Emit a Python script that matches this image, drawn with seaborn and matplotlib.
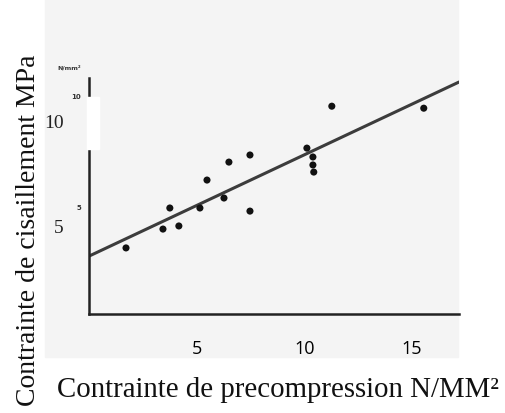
"""Shear strength vs precompression stress - scanned test results, redrawn."""
import matplotlib

matplotlib.use("Agg")
import matplotlib.pyplot as plt
import matplotlib.transforms as mtransforms
from matplotlib.patches import Rectangle
import pandas as pd
import seaborn as sns

# measured points (precompression N/mm2, shear MPa)
precompression = [1.70, 3.42, 3.74, 4.16, 5.14, 5.47, 6.26, 6.49, 7.47, 7.47,
                  10.12, 10.40, 10.40, 10.44, 11.28, 15.56]
shear = [3.11, 3.96, 4.91, 4.10, 4.91, 6.17, 5.36, 6.98, 4.77, 7.30,
         7.61, 7.21, 6.85, 6.53, 9.50, 9.41]

# trend line ends
trend_x = [0.0, 17.2]
trend_y = [2.75, 10.59]

x_ticks = [5, 10, 15]
x_tick_labels = ["5", "10", "15"]
y_ticks = [5, 10]
y_scan_labels = ["5", "10"]
y_overlay_labels = ["5", "10"]

sns.set_theme(style="white")
plt.rcParams["font.family"] = ["Liberation Serif", "DejaVu Serif"]

fig = plt.figure(figsize=(5.05, 4.14), dpi=100)
# faint grey of the scanned page
fig.patches.append(Rectangle((45 / 505, 1 - 358 / 414), 413 / 505, 358 / 414,
                             transform=fig.transFigure, color="#f4f4f4",
                             zorder=-1))
ax = fig.add_axes([0.1772, 0.2391, 0.7317, 0.570])
ax.set_facecolor("none")

pts = pd.DataFrame({"x": precompression, "y": shear})
line = pd.DataFrame({"x": trend_x, "y": trend_y})
sns.lineplot(data=line, x="x", y="y", color="#3c3c3c", linewidth=2.2, ax=ax)
sns.scatterplot(data=pts, x="x", y="y", color="#111111", s=26,
                edgecolor="none", ax=ax, zorder=3)

ax.set_xlim(0, 17.2)
ax.set_ylim(0.13, 10.77)
for side in ["top", "right"]:
    ax.spines[side].set_visible(False)
for side in ["left", "bottom"]:
    ax.spines[side].set_color("#222222")
    ax.spines[side].set_linewidth(1.8)

ax.set_xticks(x_ticks)
ax.set_xticklabels(x_tick_labels, family=["Open Sans", "DejaVu Sans"],
                   fontsize=13, color="#000000")
ax.set_yticks(y_ticks)
ax.set_yticklabels(y_scan_labels, family="DejaVu Sans", fontsize=5,
                   fontweight="bold", color="#333333")
ax.tick_params(axis="x", direction="in", length=3, width=1.2, pad=18,
               colors="#333333", labelcolor="#000000")
ax.tick_params(axis="y", direction="in", length=3, width=1.2, pad=6,
               colors="#333333")
ax.set_xlabel("")
ax.set_ylabel("")

# serif labels pasted over the scan, sitting a little below the ticks
offsets = {"5": -21, "10": -27}
for val, lab in zip(y_ticks, y_overlay_labels):
    tr = mtransforms.blended_transform_factory(ax.transAxes, ax.transData)
    tr = tr + mtransforms.ScaledTranslation(0, offsets[lab] / 100,
                                            fig.dpi_scale_trans)
    ax.text(-0.07, val, lab, transform=tr, ha="right", va="center",
            fontsize=14, color="#222222")

# unit note from the scan
fig.text(57 / 505, 1 - 68 / 414, "N/mm²", fontsize=4.5, fontweight="bold",
         family="DejaVu Sans", color="#333333", va="center")

# white patch hiding part of the left axis, as on the page
fig.patches.append(Rectangle((87 / 505, 1 - 150 / 414), 12 / 505, 52 / 414,
                             transform=fig.transFigure, color="white",
                             zorder=5))

fig.text(57 / 505, 1 - 397 / 414, "Contrainte de precompression N/MM²",
         fontsize=20.8, color="#111111", ha="left", va="baseline")
fig.text(29 / 505, 1 - 54 / 414, "Contrainte de cisaillement MPa",
         fontsize=20, color="#111111", rotation=90, ha="center", va="top")

fig.savefig("out.png", dpi=100)
